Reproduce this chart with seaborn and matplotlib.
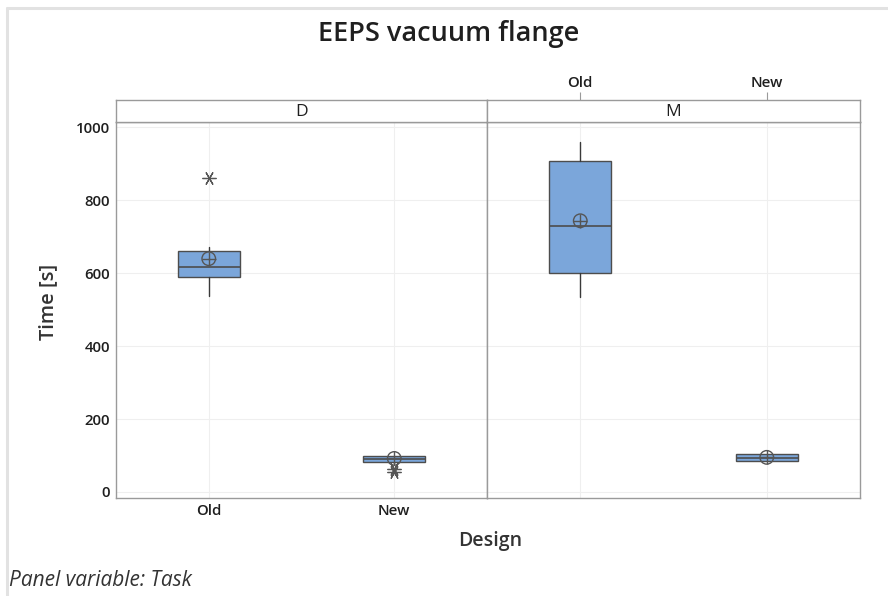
import matplotlib
matplotlib.use("Agg")
import matplotlib.pyplot as plt
from matplotlib.lines import Line2D
import seaborn as sns
import numpy as np

# Box summaries per task panel, designs in order Old, New
designs = ["Old", "New"]
tasks = ["D", "M"]

q1 = {"D": [589, 81], "M": [602, 86]}
median = {"D": [618, 90], "M": [730, 94]}
q3 = {"D": [662, 98], "M": [909, 103]}
whisker_low = {"D": [539, 78], "M": [534, 85]}
whisker_high = {"D": [673, 100], "M": [959, 104]}
mean = {"D": [640, 92], "M": [744, 95]}
outliers = {"D": [[861], [56, 62]], "M": [[], []]}

y_ticks = [0, 200, 400, 600, 800, 1000]

sns.set_theme(style="white")
plt.rcParams["font.family"] = ["Open Sans", "DejaVu Sans"]

BOX_FILL = "#7BA6DA"
EDGE = "#4d4d4d"
SPINE = "#9a9a9a"
GRID = "#efefef"
TEXT = "#1f1f1f"

W, H = 888, 596
fig = plt.figure(figsize=(W / 100, H / 100), dpi=100)


def fx(px):
    return px / W


def fy(py):
    return 1 - py / H


panel_edges = {"D": (116, 487), "M": (487, 860)}
top_px, bottom_px, strip_top_px = 122, 498, 100
TICK_SIZE = 10.8

axes = {}
for i, t in enumerate(tasks):
    x0, x1 = panel_edges[t]
    ax = fig.add_axes([fx(x0), fy(bottom_px), fx(x1 - x0), (bottom_px - top_px) / H])
    axes[t] = ax
    stats = []
    for j, d in enumerate(designs):
        stats.append(dict(med=median[t][j], q1=q1[t][j], q3=q3[t][j],
                          whislo=whisker_low[t][j], whishi=whisker_high[t][j],
                          fliers=np.array(outliers[t][j]), label=d))
    positions = np.arange(len(designs))
    ax.bxp(stats, positions=positions, widths=0.335, patch_artist=True,
           showcaps=False, showfliers=True,
           boxprops=dict(facecolor=BOX_FILL, edgecolor=EDGE, linewidth=1.0),
           medianprops=dict(color=EDGE, linewidth=1.2),
           whiskerprops=dict(color="#3a3a3a", linewidth=1.0),
           flierprops=dict(marker=(6, 2, 30), markersize=10, markeredgecolor="#555555",
                           markerfacecolor="#555555", markeredgewidth=0.9, linestyle="none"),
           zorder=3)
    # Mean symbols: circle with crosshair
    sns.scatterplot(x=positions, y=mean[t], ax=ax, marker="o", s=95,
                    facecolor="none", edgecolor="#555555", linewidth=1.0, zorder=5)
    sns.scatterplot(x=positions, y=mean[t], ax=ax, marker="+", s=95,
                    color="#555555", linewidth=1.0, zorder=5)

    ax.set_xlim(-0.5, len(designs) - 0.5)
    ax.set_ylim(-16.5, 1015)
    ax.set_yticks(y_ticks)
    ax.set_xticks(positions)
    ax.set_xlabel("")
    ax.set_ylabel("")
    ax.grid(True, color=GRID, linewidth=0.8, zorder=0)
    ax.set_axisbelow(True)
    for s in ax.spines.values():
        s.set_color(SPINE)
        s.set_linewidth(1.0)
    ax.spines["top"].set_color("#8f8f8f")
    ax.tick_params(axis="both", colors=SPINE, length=3, width=0.8,
                   labelcolor=TEXT, labelsize=TICK_SIZE, pad=1.5)
    if t == "D":
        ax.set_xticklabels(designs, fontweight="semibold")
        for lab in ax.get_yticklabels():
            lab.set_fontweight("semibold")
        ax.tick_params(axis="x", length=4, pad=0.5)
    else:
        ax.tick_params(axis="y", left=False, labelleft=False)
        ax.tick_params(axis="x", bottom=False, labelbottom=False)

    # Strip header with the panel name
    sax = fig.add_axes([fx(x0), fy(top_px), fx(x1 - x0), (top_px - strip_top_px) / H])
    sax.set_facecolor("white")
    sax.set_xlim(-0.5, len(designs) - 0.5)
    sax.set_ylim(0, 1)
    sax.set_yticks([])
    for s in sax.spines.values():
        s.set_color(SPINE)
        s.set_linewidth(1.0)
    sax.text(0.5, 0.45, t, transform=sax.transAxes, ha="center", va="center",
             fontsize=12.5, color=TEXT)
    if t == "M":
        sax.xaxis.tick_top()
        sax.set_xticks(positions)
        sax.set_xticklabels(designs, fontweight="semibold")
        sax.tick_params(axis="x", colors=SPINE, length=6, width=0.8,
                        labelcolor=TEXT, labelsize=TICK_SIZE, pad=1.0)
    else:
        sax.set_xticks([])

fig.text(fx(449), fy(34), "EEPS vacuum flange", ha="center", va="center",
         fontsize=19.5, fontweight="semibold", color=TEXT)
fig.text(fx(48), fy(302), "Time [s]", ha="center", va="center", rotation=90,
         fontsize=14.5, fontweight="semibold", color="#333333")
fig.text(fx(490), fy(541), "Design", ha="center", va="center",
         fontsize=14, fontweight="semibold", color="#333333")
fig.text(fx(9), fy(581), "Panel variable: Task", ha="left", va="center",
         fontsize=15, style="italic", color="#333333")

# Light frame along the top and left edges
fig.add_artist(Line2D([fx(7), fx(7)], [fy(8), 0], color="#e2e2e2", linewidth=2.2))
fig.add_artist(Line2D([fx(7), 1], [fy(8), fy(8)], color="#e2e2e2", linewidth=2.2))

fig.savefig("out.png", dpi=100, facecolor="white")
